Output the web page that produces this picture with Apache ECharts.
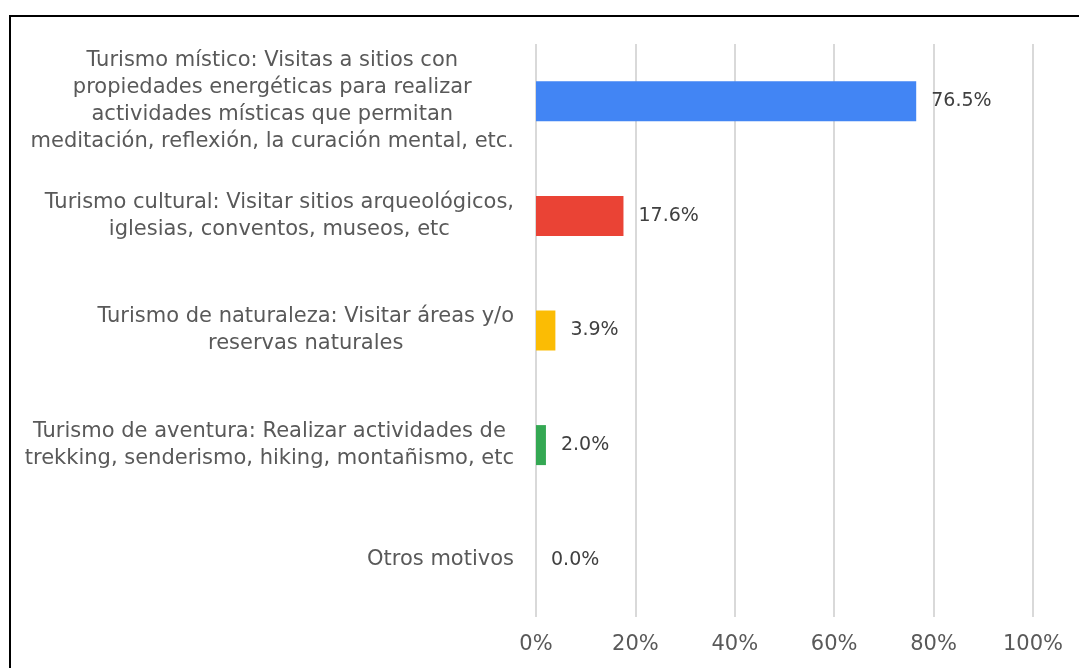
<!DOCTYPE html>
<html>
<head>
<meta charset="utf-8">
<script src="https://cdn.jsdelivr.net/npm/echarts@6/dist/echarts.min.js"></script>
<style>
  html, body { margin: 0; padding: 0; background: #fff; }
  #chart { position: absolute; left: 0; top: 0; width: 1079px; height: 668px; }
  /* marco del gráfico (sale por la derecha y abajo, como en la imagen) */
  #frame { position: absolute; left: 9px; top: 15px; width: 1100px; height: 700px;
           border: 2px solid #000; box-sizing: border-box; pointer-events: none; }
</style>
</head>
<body>
<div id="chart"></div>
<div id="frame"></div>
<script>
// Motivos de visita (de arriba hacia abajo)
const categories = [
  'Turismo místico: Visitas a sitios con\npropiedades energéticas para realizar\nactividades místicas que permitan\nmeditación, reflexión, la curación mental, etc.',
  'Turismo cultural: Visitar sitios arqueológicos,\niglesias, conventos, museos, etc',
  'Turismo de naturaleza: Visitar áreas y/o\nreservas naturales',
  'Turismo de aventura: Realizar actividades de\ntrekking, senderismo, hiking, montañismo, etc',
  'Otros motivos',
];
const values = [76.5, 17.6, 3.9, 2.0, 0.0];
const barColors = ['#4285F4', '#EA4335', '#FBBC04', '#34A853', '#FF6D01'];
const xTicks = [0, 20, 40, 60, 80, 100];

const FONT = 'DejaVu Sans';

const chart = echarts.init(document.getElementById('chart'));
chart.setOption({
  backgroundColor: '#fff',
  animation: false,
  grid: { left: 536, right: 46, top: 44, bottom: 51 },
  xAxis: {
    type: 'value',
    min: xTicks[0],
    max: xTicks[xTicks.length - 1],
    interval: xTicks[1] - xTicks[0],
    axisLine: { show: false },
    axisTick: { show: false },
    axisLabel: {
      formatter: '{value}%',
      color: '#595959',
      fontFamily: FONT,
      fontSize: 21,
      margin: 17,
    },
    splitLine: { lineStyle: { color: '#d9d9d9', width: 2 } },
  },
  yAxis: {
    type: 'category',
    inverse: true,
    data: categories,
    axisLine: { show: false },
    axisTick: { show: false },
    axisLabel: {
      margin: 22,
      // cada línea centrada dentro del bloque, bloque alineado a la derecha
      formatter: (v) => v.split('\n').map((l) => `{c|${l}}`).join('\n'),
      rich: {
        c: { align: 'center', color: '#595959', fontFamily: FONT, fontSize: 21, lineHeight: 27 },
      },
    },
  },
  series: [{
    type: 'bar',
    barWidth: 40,
    data: values.map((v, i) => ({ value: v, itemStyle: { color: barColors[i] } })),
    label: {
      show: true,
      position: 'right',
      distance: 15,
      color: '#404040',
      fontFamily: FONT,
      fontSize: 19,
      formatter: (p) => p.value.toFixed(1) + '%',
    },
  }],
});
</script>
</body>
</html>
